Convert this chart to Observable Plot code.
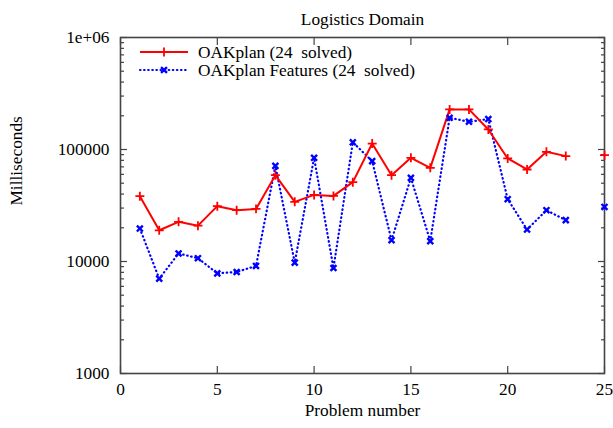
<!DOCTYPE html>
<html>
<head>
<meta charset="utf-8">
<script src="https://cdn.jsdelivr.net/npm/d3@7"></script>
<script src="https://cdn.jsdelivr.net/npm/@observablehq/plot@0.6"></script>
<style>
  html, body { margin: 0; padding: 0; background: #fff; }
</style>
</head>
<body>
<div id="chart"></div>
<script>
const problems = [1,2,3,4,5,6,7,8,9,10,11,12,13,14,15,16,17,18,19,20,21,22,23,24,25];
const oakplan = [38300,19000,22600,20900,31200,28700,29500,59000,34100,39300,38500,51100,113000,59000,84300,68600,228000,228000,151000,83200,66300,95400,87300,null,89000];
const oakplanFeatures = [19700,7030,11800,10700,7840,8060,9120,71500,9770,84300,8750,116000,78700,15500,55800,15200,192000,177000,187000,36000,19300,28700,23400,null,30700];
const seriesNames = ["OAKplan (24  solved)", "OAKplan Features (24  solved)"];
const xTicks = [0,5,10,15,20,25];
const yTicks = [1000,10000,100000,1000000];
const yTickLabels = ["1000","10000","100000","1e+06"];
const yMinor = [];
for (const d of [1000,10000,100000]) for (let k = 2; k <= 9; k++) yMinor.push(d*k);

const redData = problems.map((p,i) => ({p, v: oakplan[i]}));
const blueData = problems.map((p,i) => ({p, v: oakplanFeatures[i]}));
const RED = "#ff0000", BLUE = "#0000ff", AX = "#444";
const FS = 17.3;
const FONT = "'Liberation Serif', 'DejaVu Serif', serif";
const DOTS = "0.5,3.6";

const plot = Plot.plot({
  width: 613, height: 428,
  marginLeft: 120, marginRight: 9, marginTop: 37, marginBottom: 55,
  style: {fontFamily: FONT, fontSize: FS + "px", background: "#fff", color: "#000"},
  x: {domain: [0,25]},
  y: {type: "log", domain: [1000, 1000000]},
  marks: [
    Plot.axisY({ticks: yTicks, tickSize: 0, tickPadding: 11, tickFormat: d => yTickLabels[yTicks.indexOf(d)], label: null, fontSize: FS}),
    Plot.axisY({anchor: "left", ticks: yTicks, tickSize: -7, fill: "none", label: null, stroke: AX, strokeWidth: 1.2}),
    Plot.axisY({anchor: "right", ticks: yTicks, tickSize: -7, fill: "none", label: null, stroke: AX, strokeWidth: 1.2}),
    Plot.axisY({anchor: "left", ticks: yMinor, tickSize: -4, fill: "none", label: null, stroke: AX, strokeWidth: 1.2}),
    Plot.axisY({anchor: "right", ticks: yMinor, tickSize: -4, fill: "none", label: null, stroke: AX, strokeWidth: 1.2}),
    Plot.axisX({ticks: xTicks, tickSize: 0, tickPadding: 9, label: null, fontSize: FS}),
    Plot.axisX({anchor: "bottom", ticks: xTicks, tickSize: -7, fill: "none", label: null, stroke: AX, strokeWidth: 1.2}),
    Plot.axisX({anchor: "top", ticks: xTicks, tickSize: -7, fill: "none", label: null, stroke: AX, strokeWidth: 1.2}),
    Plot.frame({stroke: AX, strokeWidth: 1.6}),
    Plot.line(blueData, {x: "p", y: "v", stroke: BLUE, strokeWidth: 2.2, strokeDasharray: DOTS, strokeLinecap: "round"}),
    Plot.line(redData, {x: "p", y: "v", stroke: RED, strokeWidth: 2}),
    Plot.dot(blueData.filter(d => d.v != null), {x: "p", y: "v", symbol: "times", r: 2.8, stroke: BLUE, strokeWidth: 2.4}),
    Plot.dot(redData.filter(d => d.v != null), {x: "p", y: "v", symbol: "plus", r: 3.0, stroke: RED, strokeWidth: 1.8}),
    Plot.text(["Milliseconds"], {frameAnchor: "left", dx: -104, rotate: -90, fontSize: FS}),
    Plot.text(["Problem number"], {frameAnchor: "bottom", dy: 42, fontSize: FS}),
    Plot.text(["Logistics Domain"], {frameAnchor: "top", dy: -25, fontSize: FS})
  ]
});

// Legend (inside the plot frame, top-left)
const svg = d3.select(plot);
const legend = svg.append("g").attr("font-family", FONT).attr("font-size", FS).attr("text-anchor", "start");
const rows = [
  {name: seriesNames[0], color: RED, dash: null, sym: d3.symbolPlus, r: 3.0, sw: 1.8, y: 52},
  {name: seriesNames[1], color: BLUE, dash: DOTS, sym: d3.symbolTimes, r: 2.8, sw: 2.4, y: 70}
];
for (const r of rows) {
  legend.append("line").attr("x1", 140).attr("x2", 188).attr("y1", r.y).attr("y2", r.y)
    .attr("stroke", r.color).attr("stroke-width", r.dash ? 2.2 : 2)
    .attr("stroke-dasharray", r.dash).attr("stroke-linecap", r.dash ? "round" : null);
  const s = d3.symbol(r.sym, r.r * r.r * Math.PI);
  legend.append("path").attr("d", s()).attr("transform", `translate(164,${r.y})`)
    .attr("fill", "none").attr("stroke", r.color).attr("stroke-width", r.sw);
  legend.append("text").attr("x", 198).attr("y", r.y).attr("dy", "0.32em").attr("text-anchor", "start")
    .attr("fill", "#000").style("white-space", "pre").text(r.name);
}

document.getElementById("chart").appendChild(plot);
</script>
</body>
</html>
